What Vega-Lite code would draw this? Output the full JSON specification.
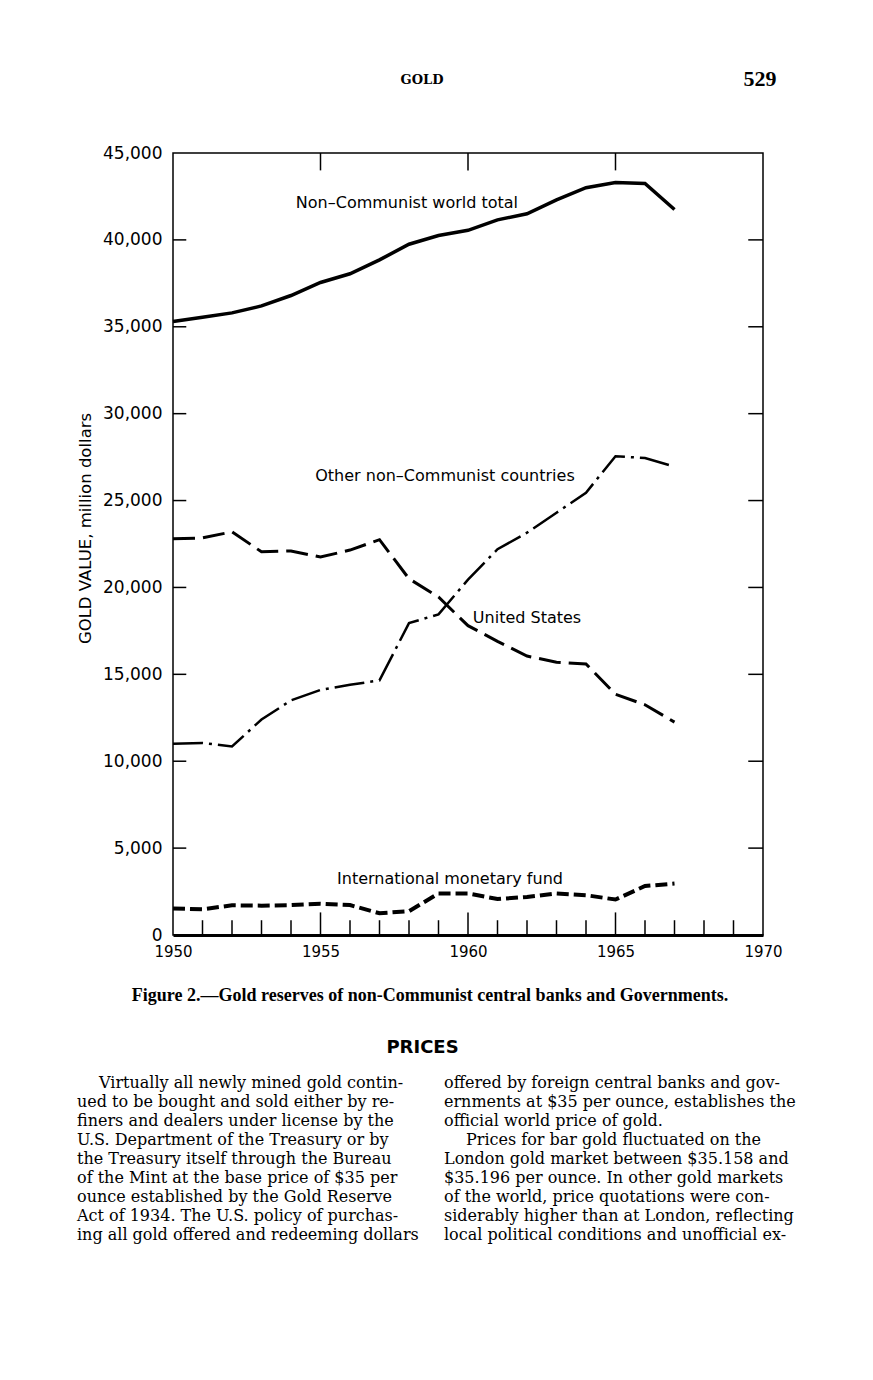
{
  "$schema": "https://vega.github.io/schema/vega-lite/v6.json",
  "background": "white",
  "padding": {"left": 76, "top": 67, "right": 5, "bottom": 5},
  "config": {"view": {"stroke": null}, "font": "DejaVu Sans"},
  "spacing": 33,
  "datasets": {
    "gold": [
      {"series": "total", "year": 1950, "value": 35300}, {"series": "total", "year": 1951, "value": 35550}, {"series": "total", "year": 1952, "value": 35800}, {"series": "total", "year": 1953, "value": 36200}, {"series": "total", "year": 1954, "value": 36800}, {"series": "total", "year": 1955, "value": 37550}, {"series": "total", "year": 1956, "value": 38050}, {"series": "total", "year": 1957, "value": 38850}, {"series": "total", "year": 1958, "value": 39750}, {"series": "total", "year": 1959, "value": 40250}, {"series": "total", "year": 1960, "value": 40550}, {"series": "total", "year": 1961, "value": 41150}, {"series": "total", "year": 1962, "value": 41500}, {"series": "total", "year": 1963, "value": 42300}, {"series": "total", "year": 1964, "value": 43000}, {"series": "total", "year": 1965, "value": 43300}, {"series": "total", "year": 1966, "value": 43250}, {"series": "total", "year": 1967, "value": 41750},
      {"series": "us", "year": 1950, "value": 22800}, {"series": "us", "year": 1951, "value": 22850}, {"series": "us", "year": 1952, "value": 23200}, {"series": "us", "year": 1953, "value": 22050}, {"series": "us", "year": 1954, "value": 22100}, {"series": "us", "year": 1955, "value": 21750}, {"series": "us", "year": 1956, "value": 22150}, {"series": "us", "year": 1957, "value": 22750}, {"series": "us", "year": 1958, "value": 20500}, {"series": "us", "year": 1959, "value": 19450}, {"series": "us", "year": 1960, "value": 17800}, {"series": "us", "year": 1961, "value": 16900}, {"series": "us", "year": 1962, "value": 16050}, {"series": "us", "year": 1963, "value": 15700}, {"series": "us", "year": 1964, "value": 15600}, {"series": "us", "year": 1965, "value": 13850}, {"series": "us", "year": 1966, "value": 13250}, {"series": "us", "year": 1967, "value": 12250},
      {"series": "other", "year": 1950, "value": 11000}, {"series": "other", "year": 1951, "value": 11050}, {"series": "other", "year": 1952, "value": 10850}, {"series": "other", "year": 1953, "value": 12400}, {"series": "other", "year": 1954, "value": 13500}, {"series": "other", "year": 1955, "value": 14100}, {"series": "other", "year": 1956, "value": 14400}, {"series": "other", "year": 1957, "value": 14650}, {"series": "other", "year": 1958, "value": 17950}, {"series": "other", "year": 1959, "value": 18450}, {"series": "other", "year": 1960, "value": 20450}, {"series": "other", "year": 1961, "value": 22200}, {"series": "other", "year": 1962, "value": 23150}, {"series": "other", "year": 1963, "value": 24300}, {"series": "other", "year": 1964, "value": 25450}, {"series": "other", "year": 1965, "value": 27550}, {"series": "other", "year": 1966, "value": 27450}, {"series": "other", "year": 1967, "value": 26950},
      {"series": "imf", "year": 1950, "value": 1530}, {"series": "imf", "year": 1951, "value": 1480}, {"series": "imf", "year": 1952, "value": 1710}, {"series": "imf", "year": 1953, "value": 1690}, {"series": "imf", "year": 1954, "value": 1720}, {"series": "imf", "year": 1955, "value": 1800}, {"series": "imf", "year": 1956, "value": 1720}, {"series": "imf", "year": 1957, "value": 1250}, {"series": "imf", "year": 1958, "value": 1370}, {"series": "imf", "year": 1959, "value": 2390}, {"series": "imf", "year": 1960, "value": 2390}, {"series": "imf", "year": 1961, "value": 2070}, {"series": "imf", "year": 1962, "value": 2190}, {"series": "imf", "year": 1963, "value": 2390}, {"series": "imf", "year": 1964, "value": 2290}, {"series": "imf", "year": 1965, "value": 2040}, {"series": "imf", "year": 1966, "value": 2820}, {"series": "imf", "year": 1967, "value": 2960}
    ],
    "labels": [
      {"label": "Non–Communist world total", "year": 1957.93, "value": 42120},
      {"label": "Other non–Communist countries", "year": 1959.22, "value": 26410},
      {"label": "United States", "year": 1962.0, "value": 18240},
      {"label": "International monetary fund", "year": 1959.39, "value": 3220}
    ],
    "minorTicks": [
      {"year": 1951}, {"year": 1952}, {"year": 1953}, {"year": 1954}, {"year": 1956}, {"year": 1957}, {"year": 1958}, {"year": 1959}, {"year": 1961}, {"year": 1962}, {"year": 1963}, {"year": 1964}, {"year": 1966}, {"year": 1967}, {"year": 1968}, {"year": 1969}
    ],
    "majorTicks": [{"year": 1955}, {"year": 1960}, {"year": 1965}],
    "yTicks": [{"value": 5000}, {"value": 10000}, {"value": 15000}, {"value": 20000}, {"value": 25000}, {"value": 30000}, {"value": 35000}, {"value": 40000}],
    "body": [
      {"column": "L", "line": 1, "paragraphStart": true, "text": "Virtually all newly mined gold contin-"},
      {"column": "L", "line": 2, "paragraphStart": false, "text": "ued to be bought and sold either by re-"},
      {"column": "L", "line": 3, "paragraphStart": false, "text": "finers and dealers under license by the"},
      {"column": "L", "line": 4, "paragraphStart": false, "text": "U.S. Department of the Treasury or by"},
      {"column": "L", "line": 5, "paragraphStart": false, "text": "the Treasury itself through the Bureau"},
      {"column": "L", "line": 6, "paragraphStart": false, "text": "of the Mint at the base price of $35 per"},
      {"column": "L", "line": 7, "paragraphStart": false, "text": "ounce established by the Gold Reserve"},
      {"column": "L", "line": 8, "paragraphStart": false, "text": "Act of 1934. The U.S. policy of purchas-"},
      {"column": "L", "line": 9, "paragraphStart": false, "text": "ing all gold offered and redeeming dollars"},
      {"column": "R", "line": 1, "paragraphStart": false, "text": "offered by foreign central banks and gov-"},
      {"column": "R", "line": 2, "paragraphStart": false, "text": "ernments at $35 per ounce, establishes the"},
      {"column": "R", "line": 3, "paragraphStart": false, "text": "official world price of gold."},
      {"column": "R", "line": 4, "paragraphStart": true, "text": "Prices for bar gold fluctuated on the"},
      {"column": "R", "line": 5, "paragraphStart": false, "text": "London gold market between $35.158 and"},
      {"column": "R", "line": 6, "paragraphStart": false, "text": "$35.196 per ounce. In other gold markets"},
      {"column": "R", "line": 7, "paragraphStart": false, "text": "of the world, price quotations were con-"},
      {"column": "R", "line": 8, "paragraphStart": false, "text": "siderably higher than at London, reflecting"},
      {"column": "R", "line": 9, "paragraphStart": false, "text": "local political conditions and unofficial ex-"}
    ]
  },
  "vconcat": [
    {
      "width": 590,
      "height": 782,
      "view": {"stroke": "black", "strokeWidth": 1.5},
      "title": {"text": "Figure 2.—Gold reserves of non-Communist central banks and Governments.", "orient": "bottom", "anchor": "middle", "frame": "group", "dx": -38, "offset": 28, "font": "Liberation Serif", "fontSize": 18, "fontWeight": "bold", "color": "black"},
      "layer": [
        {
          "data": {"name": "gold"},
          "transform": [{"filter": "datum.series === 'total'"}],
          "mark": {"type": "line", "color": "black", "strokeWidth": 3.5},
          "encoding": {
            "x": {"field": "year", "type": "quantitative", "scale": {"domain": [1950, 1970], "nice": false, "zero": false},
              "axis": {"values": [1950, 1955, 1960, 1965, 1970], "format": "d", "title": null, "ticks": false, "grid": false, "domain": true, "domainWidth": 3, "domainColor": "black", "labelFont": "DejaVu Sans", "labelFontSize": 15, "labelColor": "black", "labelPadding": 9, "labelFlush": false, "labelOverlap": false}},
            "y": {"field": "value", "type": "quantitative", "scale": {"domain": [0, 45000], "nice": false},
              "axis": {"values": [0, 5000, 10000, 15000, 20000, 25000, 30000, 35000, 40000, 45000], "format": ",d", "title": "GOLD VALUE, million dollars", "titleY": 375, "ticks": false, "grid": false, "domain": false, "labelFont": "DejaVu Sans", "labelFontSize": 17, "labelColor": "black", "labelPadding": 11, "titleFont": "DejaVu Sans", "titleFontSize": 16.5, "titleFontWeight": "normal", "titleColor": "black", "titlePadding": 9}}
          }
        },
        {
          "data": {"name": "gold"},
          "transform": [{"filter": "datum.series === 'us'"}],
          "mark": {"type": "line", "color": "black", "strokeWidth": 3, "strokeDash": [22, 8]},
          "encoding": {"x": {"field": "year", "type": "quantitative"}, "y": {"field": "value", "type": "quantitative"}}
        },
        {
          "data": {"name": "gold"},
          "transform": [{"filter": "datum.series === 'other'"}],
          "mark": {"type": "line", "color": "black", "strokeWidth": 2.5, "strokeDash": [30, 6, 3, 6]},
          "encoding": {"x": {"field": "year", "type": "quantitative"}, "y": {"field": "value", "type": "quantitative"}}
        },
        {
          "data": {"name": "gold"},
          "transform": [{"filter": "datum.series === 'imf'"}],
          "mark": {"type": "line", "color": "black", "strokeWidth": 4, "strokeDash": [12, 5]},
          "encoding": {"x": {"field": "year", "type": "quantitative"}, "y": {"field": "value", "type": "quantitative"}}
        },
        {
          "data": {"name": "minorTicks"},
          "mark": {"type": "rule", "color": "black", "strokeWidth": 1.5},
          "encoding": {"x": {"field": "year", "type": "quantitative"}, "y": {"datum": 0}, "y2": {"datum": 850}}
        },
        {
          "data": {"name": "majorTicks"},
          "mark": {"type": "rule", "color": "black", "strokeWidth": 1.5},
          "encoding": {"x": {"field": "year", "type": "quantitative"}, "y": {"datum": 0}, "y2": {"datum": 1300}}
        },
        {
          "data": {"name": "majorTicks"},
          "mark": {"type": "rule", "color": "black", "strokeWidth": 1.5},
          "encoding": {"x": {"field": "year", "type": "quantitative"}, "y": {"datum": 45000}, "y2": {"datum": 44000}}
        },
        {
          "data": {"name": "yTicks"},
          "mark": {"type": "rule", "color": "black", "strokeWidth": 1.5},
          "encoding": {"y": {"field": "value", "type": "quantitative"}, "x": {"datum": 1950}, "x2": {"datum": 1950.45}}
        },
        {
          "data": {"name": "yTicks"},
          "mark": {"type": "rule", "color": "black", "strokeWidth": 1.5},
          "encoding": {"y": {"field": "value", "type": "quantitative"}, "x": {"datum": 1969.5}, "x2": {"datum": 1970}}
        },
        {
          "data": {"name": "labels"},
          "mark": {"type": "text", "font": "DejaVu Sans", "fontSize": 16, "align": "center", "baseline": "middle", "color": "black"},
          "encoding": {"x": {"field": "year", "type": "quantitative"}, "y": {"field": "value", "type": "quantitative"}, "text": {"field": "label"}}
        },
        {
          "data": {"values": [{"label": "GOLD", "year": 1958.44, "value": 49200}]},
          "mark": {"type": "text", "font": "DejaVu Serif", "fontWeight": "bold", "fontSize": 13, "align": "center", "baseline": "middle", "color": "black"},
          "encoding": {"x": {"field": "year", "type": "quantitative"}, "y": {"field": "value", "type": "quantitative"}, "text": {"field": "label"}}
        },
        {
          "data": {"values": [{"label": "529", "year": 1969.9, "value": 49250}]},
          "mark": {"type": "text", "font": "Liberation Serif", "fontWeight": "bold", "fontSize": 22, "align": "center", "baseline": "middle", "color": "black"},
          "encoding": {"x": {"field": "year", "type": "quantitative"}, "y": {"field": "value", "type": "quantitative"}, "text": {"field": "label"}}
        }
      ]
    },
    {
      "width": 367,
      "height": 171,
      "title": {"text": "PRICES", "anchor": "middle", "frame": "group", "font": "DejaVu Sans", "fontSize": 18, "fontWeight": "bold", "offset": 16, "color": "black", "dx": 66},
      "data": {"name": "body"},
      "encoding": {
        "x": {"field": "column", "type": "nominal", "scale": {"type": "point", "padding": 0}, "axis": null},
        "y": {"field": "line", "type": "ordinal", "scale": {"type": "point", "padding": 0.5}, "axis": null},
        "text": {"field": "text"}
      },
      "layer": [
        {
          "transform": [{"filter": "!datum.paragraphStart"}],
          "mark": {"type": "text", "align": "left", "baseline": "middle", "font": "DejaVu Serif", "fontSize": 16, "color": "black", "dx": -96}
        },
        {
          "transform": [{"filter": "datum.paragraphStart"}],
          "mark": {"type": "text", "align": "left", "baseline": "middle", "font": "DejaVu Serif", "fontSize": 16, "color": "black", "dx": -74}
        }
      ]
    }
  ]
}
